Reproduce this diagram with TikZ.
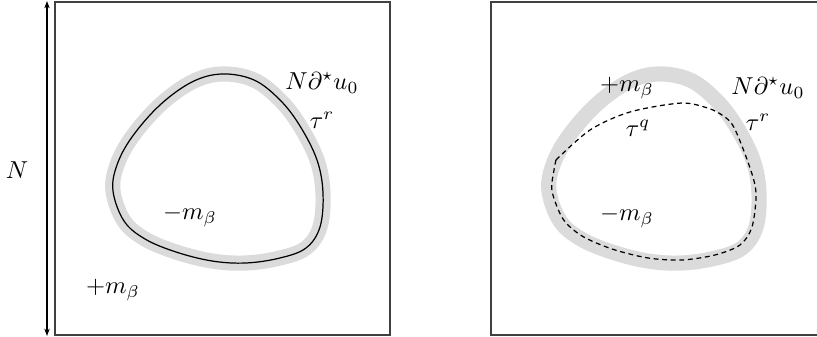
\documentclass[tikz,border=0pt]{standalone}
\usepackage{amsmath}
\usepackage{amssymb}
\usetikzlibrary{arrows.meta}

\begin{document}
\begin{tikzpicture}[x=0.01435cm, y=0.01435cm,
    band/.style={draw=black!14, line width=6.2pt},
    frame/.style={draw=black!75, line width=0.5pt},
    cut/.style={dash pattern=on 2pt off 1.5pt, line width=0.5pt}]
\def\dxR{436}

\useasboundingbox (0,0) rectangle (817,337);

\draw[frame] (55,2) rectangle (390,335);
\draw[frame] (817,335) -- (491,335) -- (491,2) -- (817,2);

\coordinate (Ntop) at (47,336);
\coordinate (Nbot) at (47,1);
\draw[{Stealth[length=3pt,width=2.2pt]}-{Stealth[length=3pt,width=2.2pt]}, line width=0.5pt]
    (Ntop) -- (Nbot);
\node (labN) at (17,167) {$N$};

\foreach \dx/\ln in {0/black, \dxR/none}
  \draw[draw=\ln, line width=0.5pt, preaction={band}, shift={(\dx,0)}]
    plot[smooth cycle, tension=0.6] coordinates {(222,263) (254,257) (280,237)
      (300,211) (317,177) (323,144) (320,110) (306,89) (280,79) (246,74) (212,76)
      (176,85) (145,98) (124,116) (113,146) (117,172) (132,200) (160,232) (192,255)};

\draw[cut]
    plot[smooth] coordinates {(556,177) (590,207) (630,225) (683,234) (713,227)}
    -- plot[smooth] coordinates {(713,227) (732,213) (749,172) (756,144) (752,110)
      (740,92) (715,82) (682,77) (648,79) (612,88) (582,101) (563,118) (552,146)
      (554,167) (556,177)};

\node (dL) at (322,254) {$N\partial^\star u_0$};
\node (trL) at (322,217) {$\tau^r$};
\node (mL) at (190,121) {$-m_\beta$};
\node (pL) at (113,47) {$+m_\beta$};

\node (pR) at (627,249) {$+m_\beta$};
\node (dR) at (768,249) {$N\partial^\star u_0$};
\node (trR) at (758,215) {$\tau^r$};
\node (tq) at (638,209) {$\tau^q$};
\node (mR) at (627,120) {$-m_\beta$};
\end{tikzpicture}
\end{document}
